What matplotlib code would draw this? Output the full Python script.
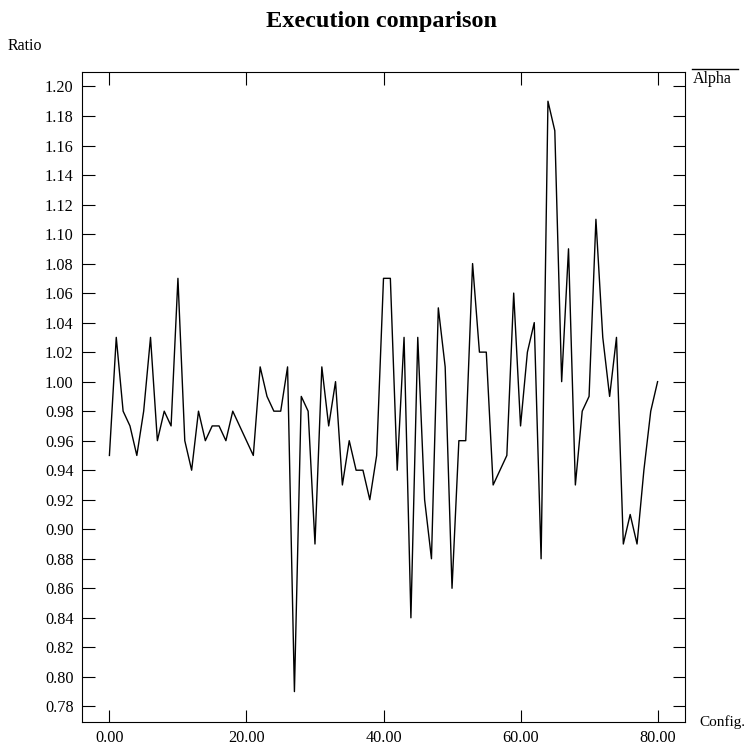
import matplotlib
matplotlib.use("Agg")
import matplotlib.pyplot as plt
from matplotlib.lines import Line2D

plt.rcParams['font.family'] = ['Liberation Serif', 'DejaVu Serif']

config = list(range(81))
alpha = [0.95, 1.03, 0.98, 0.97, 0.95, 0.98, 1.03, 0.96, 0.98, 0.97,
         1.07, 0.96, 0.94, 0.98, 0.96, 0.97, 0.97, 0.96, 0.98, 0.97,
         0.96, 0.95, 1.01, 0.99, 0.98, 0.98, 1.01, 0.79, 0.99, 0.98,
         0.89, 1.01, 0.97, 1.00, 0.93, 0.96, 0.94, 0.94, 0.92, 0.95,
         1.07, 1.07, 0.94, 1.03, 0.84, 1.03, 0.92, 0.88, 1.05, 1.01,
         0.86, 0.96, 0.96, 1.08, 1.02, 1.02, 0.93, 0.94, 0.95, 1.06,
         0.97, 1.02, 1.04, 0.88, 1.19, 1.17, 1.00, 1.09, 0.93, 0.98,
         0.99, 1.11, 1.03, 0.99, 1.03, 0.89, 0.91, 0.89, 0.94, 0.98,
         1.00]
xticks = [0, 20, 40, 60, 80]
yticks = [round(0.78 + 0.02 * i, 2) for i in range(22)]

W, H = 749, 748
fig = plt.figure(figsize=(W / 100, H / 100), dpi=100)
ax = fig.add_axes([82 / W, 1 - 722 / H, (685 - 82) / W, (722 - 72) / H])

ax.plot(config, alpha, color='black', linewidth=1.0)
ax.set_xlim(-4, 84)
ax.set_ylim(0.7694, 1.2098)
ax.set_xticks(xticks)
ax.set_xticklabels([f"{v:.2f}" for v in xticks])
ax.set_yticks(yticks)
ax.set_yticklabels([f"{v:.2f}" for v in yticks])
ax.tick_params(axis='both', direction='in', length=9, width=0.8,
               labelsize=11.7, top=True, right=True, pad=6)
for s in ax.spines.values():
    s.set_linewidth(0.8)

fig.text(382 / W, 1 - 21 / H, "Execution comparison", ha='center', va='center',
         fontsize=17.5, fontweight='bold')
fig.text(8 / W, 1 - 46 / H, "Ratio", ha='left', va='center', fontsize=11.5)
fig.text(699 / W, 1 - 722 / H, "Config.", ha='left', va='center', fontsize=11)

# legend
fig.add_artist(Line2D([691.5 / W, 738 / W], [1 - 69 / H, 1 - 69 / H],
                      transform=fig.transFigure, color='black', linewidth=1.0))
fig.text(693 / W, 1 - 79 / H, "Alpha", ha='left', va='center', fontsize=11.5)

fig.savefig("out.png", dpi=100)
